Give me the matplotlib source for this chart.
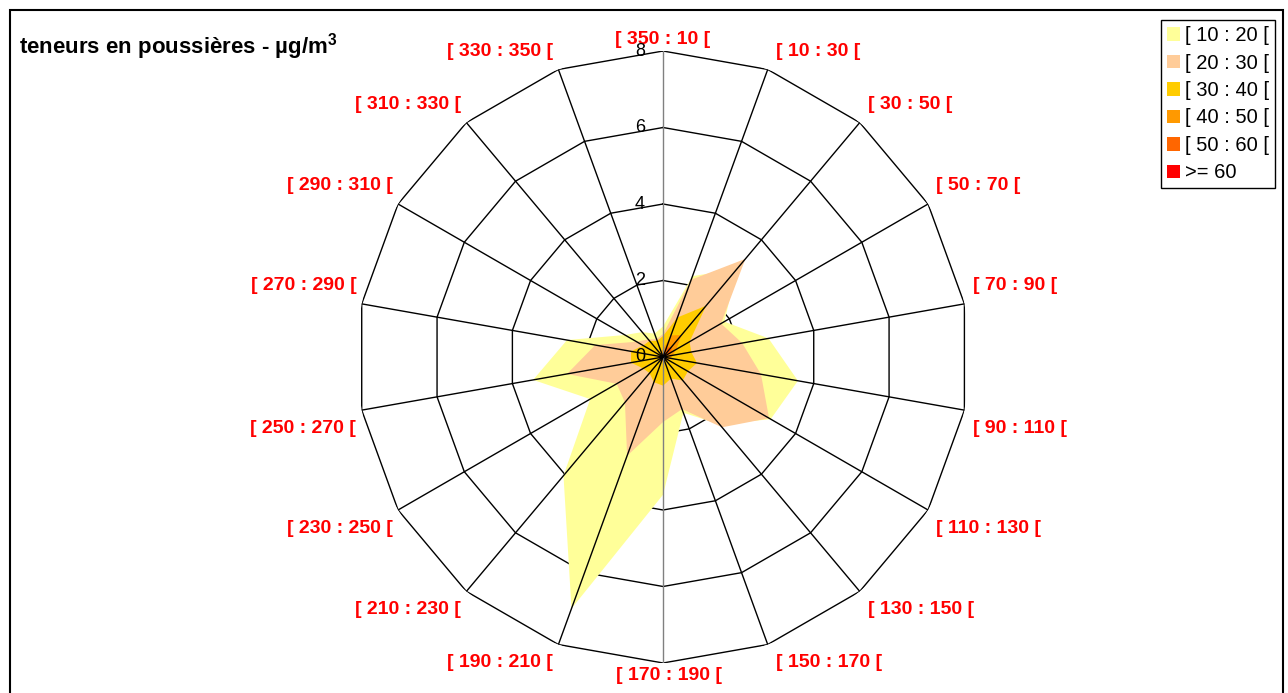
"""Rose des vents des teneurs en poussières (radar Excel, 18 secteurs)."""

import matplotlib

matplotlib.use("Agg")
import matplotlib.pyplot as plt
import numpy as np
from matplotlib.patches import Patch, Rectangle

plt.rcParams["font.family"] = ["Liberation Sans", "DejaVu Sans"]
plt.rcParams["mathtext.fontset"] = "custom"
plt.rcParams["mathtext.rm"] = "Liberation Sans"
plt.rcParams["mathtext.bf"] = "Liberation Sans:bold"

sectors = [
    "[ 350 : 10 [", "[ 10 : 30 [", "[ 30 : 50 [", "[ 50 : 70 [", "[ 70 : 90 [",
    "[ 90 : 110 [", "[ 110 : 130 [", "[ 130 : 150 [", "[ 150 : 170 [",
    "[ 170 : 190 [", "[ 190 : 210 [", "[ 210 : 230 [", "[ 230 : 250 [",
    "[ 250 : 270 [", "[ 270 : 290 [", "[ 290 : 310 [", "[ 310 : 330 [",
    "[ 330 : 350 [",
]
sector_deg = [0, 20, 40, 60, 80, 100, 120, 140, 160, 180,
              200, 220, 240, 260, 280, 300, 320, 340]

classes = ["[ 10 : 20 [", "[ 20 : 30 [", "[ 30 : 40 [", "[ 40 : 50 [", "[ 50 : 60 [", ">= 60"]
class_colors = ["#FFFF99", "#FFCC99", "#FFCC00", "#FF9900", "#FF6600", "#FF0000"]

c10_20 = [0.8, 2.25, 3.0, 1.85, 2.8, 3.58, 3.25, 2.3, 1.55, 3.6, 7.0, 4.05, 2.2, 3.45, 2.55, 1.15, 0.85, 0.65]
c20_30 = [0.6, 2.15, 3.35, 1.75, 2.1, 2.6, 3.2, 2.4, 1.45, 1.7, 2.75, 1.55, 1.4, 2.55, 1.8, 0.8, 0.6, 0.5]
c30_40 = [0.55, 1.1, 1.75, 0.8, 0.75, 0.9, 0.75, 0.8, 0.6, 0.75, 0.7, 0.55, 0.6, 0.85, 0.85, 0.6, 0.55, 0.45]
c40_50 = [0.2, 0.6, 0.75, 0.4, 0.25, 0.2, 0.15, 0.15, 0.1, 0.15, 0.1, 0.1, 0.1, 0.15, 0.15, 0.1, 0.1, 0.15]
c50_60 = [0.05, 0.25, 0.35, 0.25, 0.05, 0.05, 0.05, 0.05, 0.03, 0.05, 0.03, 0.03, 0.03, 0.05, 0.05, 0.03, 0.03, 0.05]
c60 = [0.02, 0.08, 0.12, 0.1, 0.02, 0.02, 0.02, 0.02, 0.01, 0.02, 0.01, 0.01, 0.01, 0.02, 0.02, 0.01, 0.01, 0.02]
series = [c10_20, c20_30, c30_40, c40_50, c50_60, c60]

rings = [0, 2, 4, 6, 8]
title = "teneurs en poussières - µg/m$^{\\mathbf{3}}$"


def closed(values):
    return np.append(values, values[0])


fig = plt.figure(figsize=(12.88, 6.93), dpi=100)
ax = fig.add_axes([0.2772, 0.0433, 0.4752, 0.8831], projection="polar")
ax.set_theta_zero_location("N")
ax.set_theta_direction(-1)
ax.set_ylim(0, rings[-1])
ax.grid(False)
ax.spines["polar"].set_visible(False)
ax.set_xticks([])
ax.set_yticks([])

theta = np.deg2rad(sector_deg)
theta_c = closed(theta)

# polygonal grid rings, behind the filled areas
for r in rings[1:]:
    ax.plot(theta_c, [r] * len(theta_c), color="black", lw=1, zorder=1)

for i, (vals, col) in enumerate(zip(series, class_colors)):
    ax.fill(theta_c, closed(vals), color=col, lw=0, zorder=2 + i)

# spokes drawn over the areas; the value axis is grey
for deg, t in zip(sector_deg, theta):
    col = "#808080" if deg in (0, 180) else "black"
    ax.plot([t, t], [0, rings[-1]], color=col, lw=1, zorder=10)

for r in rings:
    ax.annotate(str(r), xy=(0, r), xytext=(-13, 0), textcoords="offset points",
                ha="right", va="center", fontsize=13, zorder=11)

for deg, t, lab in zip(sector_deg, theta, sectors):
    s, c = np.sin(t), np.cos(t)
    if abs(s) < 0.1:
        ha = "center"
        dx = 0 if c > 0 else 4
    elif s > 0:
        ha, dx = "left", 6
    else:
        ha, dx = "right", -4
    if c >= 0:
        va, dy = "bottom", 7 if abs(s) > 0.1 else 2
    else:
        va, dy = "top", -7 if abs(s) > 0.1 else -3
    ax.annotate(lab, xy=(t, rings[-1]), xytext=(dx, dy), textcoords="offset points",
                ha=ha, va=va, fontsize=14, fontweight="bold", color="#FF0000",
                annotation_clip=False)

fig.text(19 / 1288, 1 - 47 / 693, title, fontsize=16, fontweight="bold", va="center")

handles = [Patch(facecolor=c, edgecolor="none") for c in class_colors]
leg = fig.legend(handles, classes, loc="upper right",
                 bbox_to_anchor=(1275 / 1288, 1 - 20 / 693), fontsize=14.5,
                 frameon=True, fancybox=False, edgecolor="black", framealpha=1,
                 handlelength=0.65, handleheight=0.65, handletextpad=0.25,
                 labelspacing=0.42, borderpad=0.3, borderaxespad=0)
leg.get_frame().set_linewidth(1)

fig.patches.append(Rectangle((10 / 1288, -0.05), 1273 / 1288, 1 - 10 / 693 + 0.05,
                             transform=fig.transFigure, fill=False,
                             ec="black", lw=1.5))

fig.savefig("out.png", dpi=100)
